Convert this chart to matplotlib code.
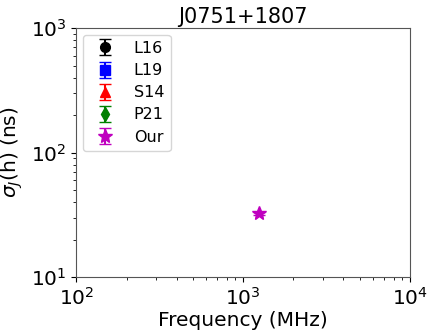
import numpy as np
import matplotlib; matplotlib.use("Agg"); import matplotlib.pyplot as plt

pulsar = "J0751+1807"
l16_freq, l16_sig, l16_err = [np.nan], [np.nan], [np.nan]
l19_freq, l19_sig, l19_err = [np.nan], [np.nan], [np.nan]
s14_freq, s14_sig, s14_err = [np.nan], [np.nan], [np.nan]
p21_freq, p21_sig, p21_err = [np.nan], [np.nan], [np.nan]
our_freq = [1250.0]
our_sig = [32.5]
our_err = [1.0]

fig, ax = plt.subplots(figsize=(4.36, 3.35), dpi=100)
ax.errorbar(l16_freq, l16_sig, yerr=l16_err, fmt='o', color='k', ms=7, capsize=4, label='L16')
ax.errorbar(l19_freq, l19_sig, yerr=l19_err, fmt='s', color='b', ms=7, capsize=4, label='L19')
ax.errorbar(s14_freq, s14_sig, yerr=s14_err, fmt='^', color='r', ms=7, capsize=4, label='S14')
ax.errorbar(p21_freq, p21_sig, yerr=p21_err, fmt='d', color='g', ms=7, capsize=4, label='P21')
ax.errorbar(our_freq, our_sig, yerr=our_err, fmt='*', color='m', ms=10, capsize=4, label='Our')

ax.set_xscale('log'); ax.set_yscale('log')
ax.set_xlim(1e2, 1e4); ax.set_ylim(1e1, 1e3)
ax.tick_params(labelsize=14.5)
for sp in ax.spines.values():
    sp.set_color('#555555')
ax.set_xlabel("Frequency (MHz)", fontsize=14.5, labelpad=2)
ax.set_ylabel(r"$\sigma_{J}$(h) (ns)", fontsize=14.5)
ax.set_title(pulsar, fontsize=15, pad=4)
ax.legend(loc='upper left', fontsize=11.5, labelspacing=0.45, borderaxespad=0.4)
plt.subplots_adjust(left=0.175, right=0.94, bottom=0.173, top=0.916)
plt.savefig("out.png", dpi=100)
